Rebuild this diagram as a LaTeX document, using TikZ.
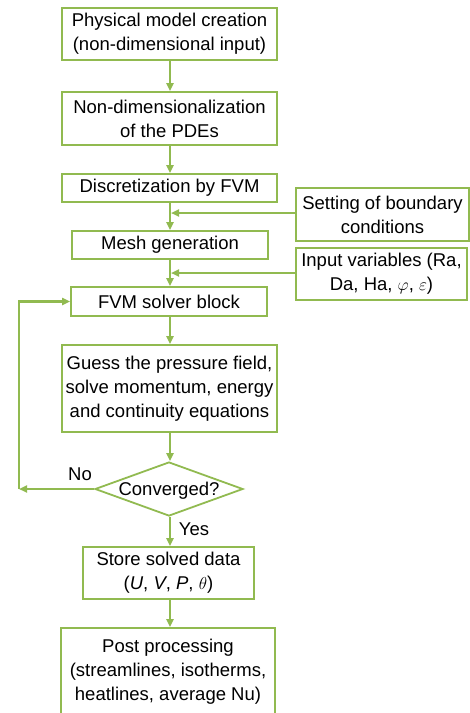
\documentclass[tikz,border=0pt]{standalone}
\usepackage{fontspec}
\setmainfont{Liberation Sans}
\usetikzlibrary{arrows.meta,shapes.geometric}
\definecolor{fg}{RGB}{145,186,80}
\begin{document}
\begin{tikzpicture}[x=1pt,y=-1pt,
  box/.style={draw=fg,line width=1.8pt,rectangle,inner sep=0pt,align=center,
    font=\fontsize{18.5}{24}\selectfont},
  arr/.style={draw=fg,line width=2.2pt,-{Triangle[length=8pt,width=7pt]}},
  lab/.style={font=\fontsize{18.5}{24}\selectfont,inner sep=0pt}]
\useasboundingbox (0,0) rectangle (470,713);
\clip (0,0) rectangle (470,713);
\node[box,minimum width=215pt,minimum height=52pt] (b1) at (169.5,34) {Physical model creation\\(non-dimensional input)};
\node[box,minimum width=215pt,minimum height=53pt] (b2) at (169.5,118.5) {Non-dimensionalization\\of the PDEs};
\node[box,minimum width=215pt,minimum height=28pt] (b3) at (169.5,188) {Discretization by FVM};
\node[box,minimum width=173pt,minimum height=53pt] (bnd) at (382.5,214.5) {Setting of boundary\\conditions};
\node[box,minimum width=196pt,minimum height=28pt] (mesh) at (170,245) {Mesh generation};
\node[box,minimum width=171pt,minimum height=52pt] (inp) at (381.5,274) {Input variables (Ra,\\Da, Ha, $\varphi$, $\varepsilon$)};
\node[box,minimum width=196pt,minimum height=29pt] (fvm) at (169,301.5) {FVM solver block};
\node[box,minimum width=215pt,minimum height=87pt] (guess) at (169.5,388.5) {Guess the pressure field,\\solve momentum, energy\\and continuity equations};
\node[box,diamond,aspect=2.74,minimum width=148pt,minimum height=54pt] (dia) at (169,489) {};
\node[lab] at (169,491) {Converged?};
\node[box,minimum width=171pt,minimum height=52pt] (store) at (168.5,573) {Store solved data\\(\textit{U}, \textit{V}, \textit{P}, $\theta$)};
\node[box,minimum width=214pt,minimum height=88pt] (post) at (168,672) {Post processing\\(streamlines, isotherms,\\heatlines, average Nu)};
\coordinate (lc) at (19,489);
\draw[arr] (b1.south -| 170,0) -- (b2.north -| 170,0);
\draw[arr] (b2.south -| 170,0) -- (b3.north -| 170,0);
\draw[arr] (b3.south -| 170,0) -- (mesh.north -| 170,0);
\draw[arr] (mesh.south -| 170,0) -- (fvm.north -| 170,0);
\draw[arr] (fvm.south -| 170,0) -- (guess.north -| 170,0);
\draw[arr] (guess.south -| 170,0) -- (dia.north -| 170,0);
\draw[arr] (dia.south -| 170,0) -- (store.north -| 170,0);
\draw[arr] (store.south -| 170,0) -- (post.north -| 170,0);
\draw[arr] (bnd.west |- 0,213) -- (171,213);
\draw[arr] (inp.west |- 0,273) -- (171,273);
\draw[arr] (dia.west) -- (lc);
\draw[arr] (lc) |- (fvm.west);
\node[lab] at (80,474) {No};
\node[lab] at (194,529) {Yes};
\end{tikzpicture}
\end{document}
